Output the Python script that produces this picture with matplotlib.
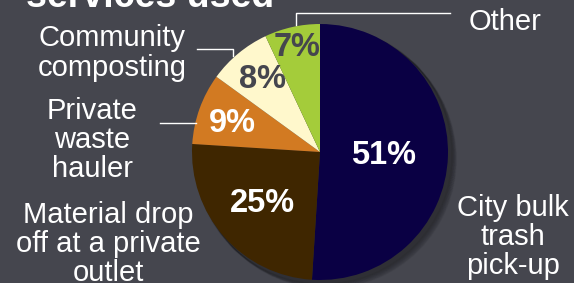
import matplotlib.pyplot as plt

# Datos
categorias = ['City bulk\ntrash\npick-up', 'Material drop\noff at a private\noutlet',
              'Private\nwaste\nhauler', 'Community\ncomposting', 'Other']
valores = [51, 25, 9, 8, 7]
colores = ['#0a0044', '#3f2600', '#d27a22', '#fff8cc', '#a4cc3a']
color_pct = ['white', 'white', 'white', '#45464e', '#45464e']

fondo = '#45464e'
W, H = 574, 283

fig = plt.figure(figsize=(W / 100, H / 100), dpi=100, facecolor=fondo)
ax = fig.add_axes([0, 0, 1, 1])
ax.set_facecolor(fondo)

plt.rcParams['font.family'] = ['Liberation Sans', 'DejaVu Sans']

cx, cy, r = 320, H - 152, 128

# sombra suave
for i in range(8):
    c = plt.Circle((cx + 3 + i * 0.6, cy - 3 - i * 0.6), r + 1, color='black',
                   alpha=0.04, zorder=1)
    ax.add_patch(c)

wedges, _ = ax.pie(valores, colors=colores, startangle=90, counterclock=False,
                   center=(cx, cy), radius=r, frame=True,
                   wedgeprops=dict(linewidth=0, zorder=2))
ax.set_xlim(0, W)
ax.set_ylim(0, H)
ax.set_aspect('equal')
ax.axis('off')

# Porcentajes
pos_pct = [(384, 155), (262, 203), (232, 123), (263, 80), (297, 47)]
for v, (x, y), c in zip(valores, pos_pct, color_pct):
    ax.text(x, H - y, f'{v}%', ha='center', va='center', fontsize=23.5,
            fontweight='bold', color=c, zorder=5)

# Etiquetas
pos_lab = [(513, 237), (108, 244), (92, 140), (112, 53), (505, 22)]
for t, (x, y) in zip(categorias, pos_lab):
    ax.text(x, H - y, t, ha='center', va='center', fontsize=21,
            color='white', linespacing=1.05, zorder=5)

# Líneas guía
lineas = [
    [(450, 13), (296, 13), (296, 25)],
    [(197, 49), (233, 49), (233, 56)],
    [(160, 123), (196, 123)],
]
for pts in lineas:
    xs = [p[0] for p in pts]
    ys = [H - p[1] for p in pts]
    ax.plot(xs, ys, color='white', linewidth=1, zorder=4)

# Título (cortado arriba, como en el original)
ax.text(150, H + 3, 'services used', ha='center', va='center', fontsize=27,
        fontweight='bold', color='white', zorder=5)

fig.savefig('out.png', dpi=100, facecolor=fondo)
